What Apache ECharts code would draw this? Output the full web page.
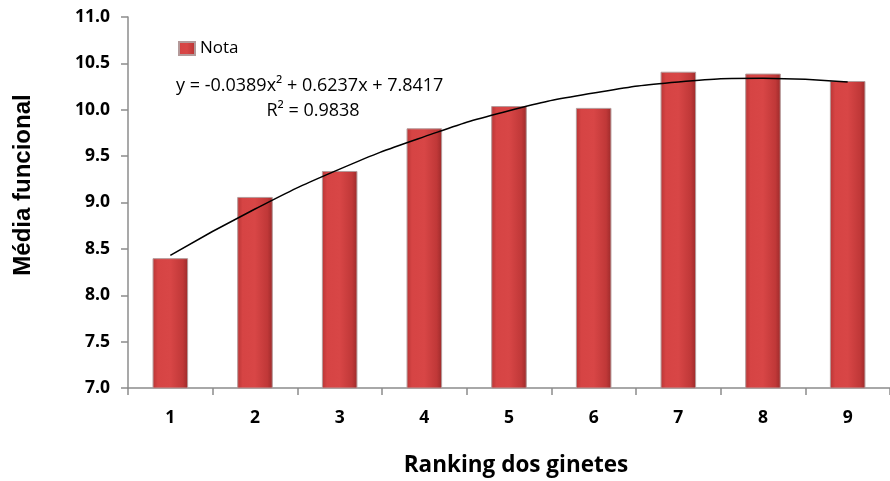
<!DOCTYPE html>
<html>
<head>
<meta charset="utf-8">
<script src="https://cdn.jsdelivr.net/npm/echarts@6/dist/echarts.min.js"></script>
<style>html,body{margin:0;padding:0;background:#fff;}#c{width:890px;height:481px;}</style>
</head>
<body>
<div id="c"></div>
<script>
var categories = ['1','2','3','4','5','6','7','8','9'];
var notaValues = [8.40, 9.06, 9.34, 9.80, 10.04, 10.02, 10.41, 10.39, 10.31];
var trendValues = [8.43, 8.93, 9.36, 9.71, 9.99, 10.18, 10.30, 10.34, 10.30];
var yTicks = {min: 7.0, max: 11.0, interval: 0.5};
var equationText = 'y = -0.0389x\u00B2 + 0.6237x + 7.8417';
var r2Text = 'R\u00B2 = 0.9838';
var yTitle = 'M\u00E9dia funcional';
var xTitle = 'Ranking dos ginetes';

var FONT = 'Open Sans';
var chart = echarts.init(document.getElementById('c'));
var barColor = new echarts.graphic.LinearGradient(0, 0, 1, 0, [
  {offset: 0, color: '#b83535'},
  {offset: 0.15, color: '#d64444'},
  {offset: 0.5, color: '#d84646'},
  {offset: 0.85, color: '#c03838'},
  {offset: 1, color: '#9c2a2a'}
]);
chart.setOption({
  animation: false,
  textStyle: {fontFamily: FONT},
  grid: {left: 128, top: 17, width: 770, height: 371, containLabel: false},
  legend: {
    left: 173, top: 35, icon: 'rect', itemWidth: 16, itemHeight: 13, itemGap: 5,
    textStyle: {fontFamily: FONT, fontSize: 17, color: '#000'},
    data: ['Nota']
  },
  xAxis: {
    type: 'category', data: categories, boundaryGap: true,
    axisLine: {lineStyle: {color: '#8c8c8c', width: 1.5}},
    axisTick: {show: true, length: 7, alignWithLabel: false, lineStyle: {color: '#8c8c8c', width: 1.5}},
    axisLabel: {fontFamily: FONT, fontWeight: 'bold', fontSize: 17.5, color: '#000', margin: 21}
  },
  yAxis: {
    type: 'value', min: yTicks.min, max: yTicks.max, interval: yTicks.interval,
    axisLine: {show: true, lineStyle: {color: '#8c8c8c', width: 1.5}},
    axisTick: {show: true, length: 7, inside: false, lineStyle: {color: '#8c8c8c', width: 1.5}},
    splitLine: {show: false},
    axisLabel: {fontFamily: FONT, fontWeight: 'bold', fontSize: 17.5, color: '#000', margin: 18,
      formatter: function (v) { return v.toFixed(1); }}
  },
  series: [
    {
      name: 'Nota', type: 'bar', data: notaValues, barWidth: '42%',
      itemStyle: {color: barColor, borderColor: '#b49a9a', borderWidth: 1},
      z: 2
    },
    {
      name: 'trend', type: 'line', data: trendValues, smooth: 0.5, showSymbol: false, symbol: 'none',
      lineStyle: {color: '#000', width: 1.5}, z: 5, silent: true
    }
  ],
  graphic: [
    {type: 'text', x: 176, y: 86, style: {text: equationText, font: '18px "' + FONT + '"', fill: '#000', verticalAlign: 'middle'}},
    {type: 'text', x: 313, y: 111, style: {text: r2Text, font: '18px "' + FONT + '"', fill: '#000', align: 'center', verticalAlign: 'middle'}},
    {type: 'text', x: 23, y: 185, rotation: Math.PI / 2,
      style: {text: yTitle, font: 'bold 24px "Liberation Sans"', fill: '#000', align: 'center', verticalAlign: 'middle'}},
    {type: 'text', x: 516, y: 466,
      style: {text: xTitle, font: 'bold 22.5px "' + FONT + '"', fill: '#000', align: 'center', verticalAlign: 'middle'}}
  ]
});
</script>
</body>
</html>
